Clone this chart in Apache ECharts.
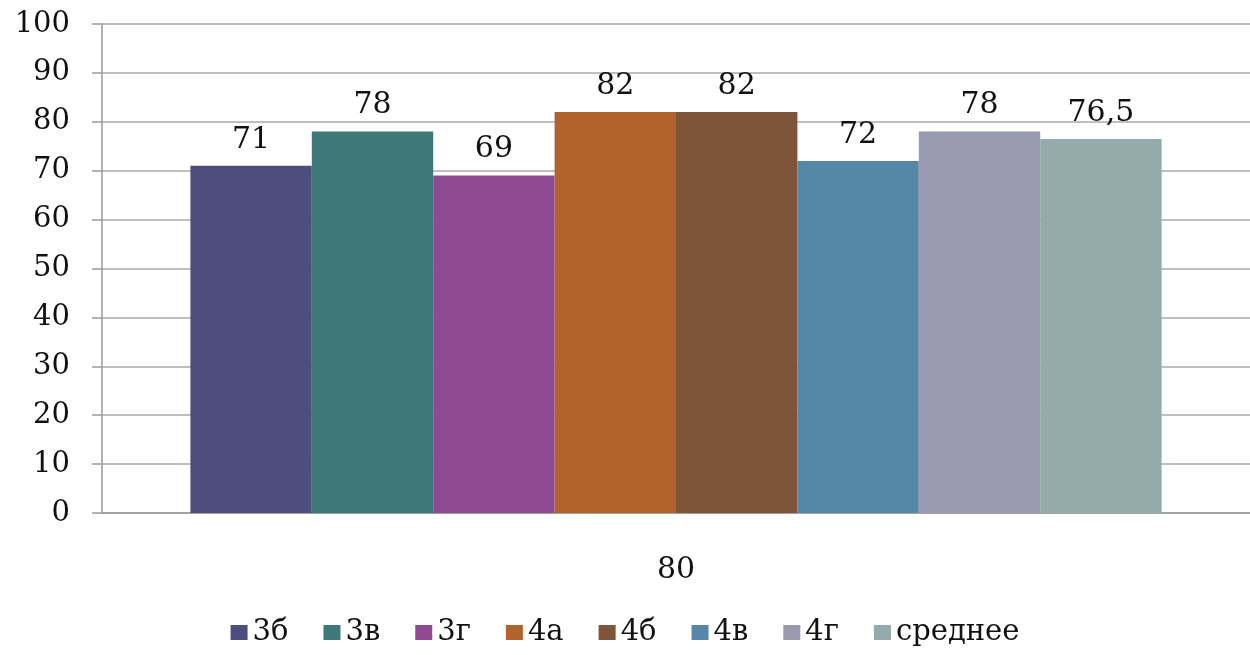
<!DOCTYPE html>
<html><head><meta charset="utf-8">
<script src="https://cdn.jsdelivr.net/npm/echarts@6/dist/echarts.min.js"></script>
<style>html,body{margin:0;padding:0;background:#fff}#c{width:1250px;height:655px}</style>
</head><body><div id="c"></div>
<script>
const categories = ['80'];
const seriesNames = ['3б','3в','3г','4а','4б','4в','4г','среднее'];
const seriesValues = [71, 78, 69, 82, 82, 72, 78, 76.5];
const colors = ['#4D4E7E','#3F7878','#8F4A93','#B2622D','#7F553A','#5787A8','#9999B2','#94ABAB'];
const font = '"DejaVu Serif", "Liberation Serif", serif';
const chart = echarts.init(document.getElementById('c'));
chart.setOption({
  animation: false,
  textStyle: { fontFamily: font },
  grid: { left: 102, right: 0, top: 24, bottom: 142, containLabel: false },
  legend: {
    bottom: 3, left: 'center', itemWidth: 17, itemHeight: 15, itemGap: 35,
    icon: 'rect',
    textStyle: { fontFamily: font, fontSize: 29, color: '#111' },
    data: seriesNames
  },
  xAxis: {
    type: 'category', data: categories,
    axisLine: { lineStyle: { color: '#999', width: 1.5 } },
    axisTick: { show: false },
    axisLabel: { fontFamily: font, fontSize: 30, color: '#111', margin: 42 }
  },
  yAxis: {
    type: 'value', min: 0, max: 100, interval: 10,
    axisLine: { show: true, lineStyle: { color: '#999', width: 1.5 } },
    axisTick: { show: true, length: 10, lineStyle: { color: '#999', width: 1.5 } },
    splitLine: { lineStyle: { color: '#aaa', width: 1.5 } },
    axisLabel: { fontFamily: font, fontSize: 29, color: '#111', margin: 32 }
  },
  series: seriesNames.map((n, i) => ({
    name: n, type: 'bar',
    data: [seriesValues[i]],
    barGap: '0%', barCategoryGap: '15.4%',
    itemStyle: { color: colors[i] },
    label: {
      show: true, position: 'top', distance: 11,
      fontFamily: font, fontSize: 30, color: '#111',
      formatter: p => String(p.value).replace('.', ',')
    }
  }))
});
</script></body></html>
